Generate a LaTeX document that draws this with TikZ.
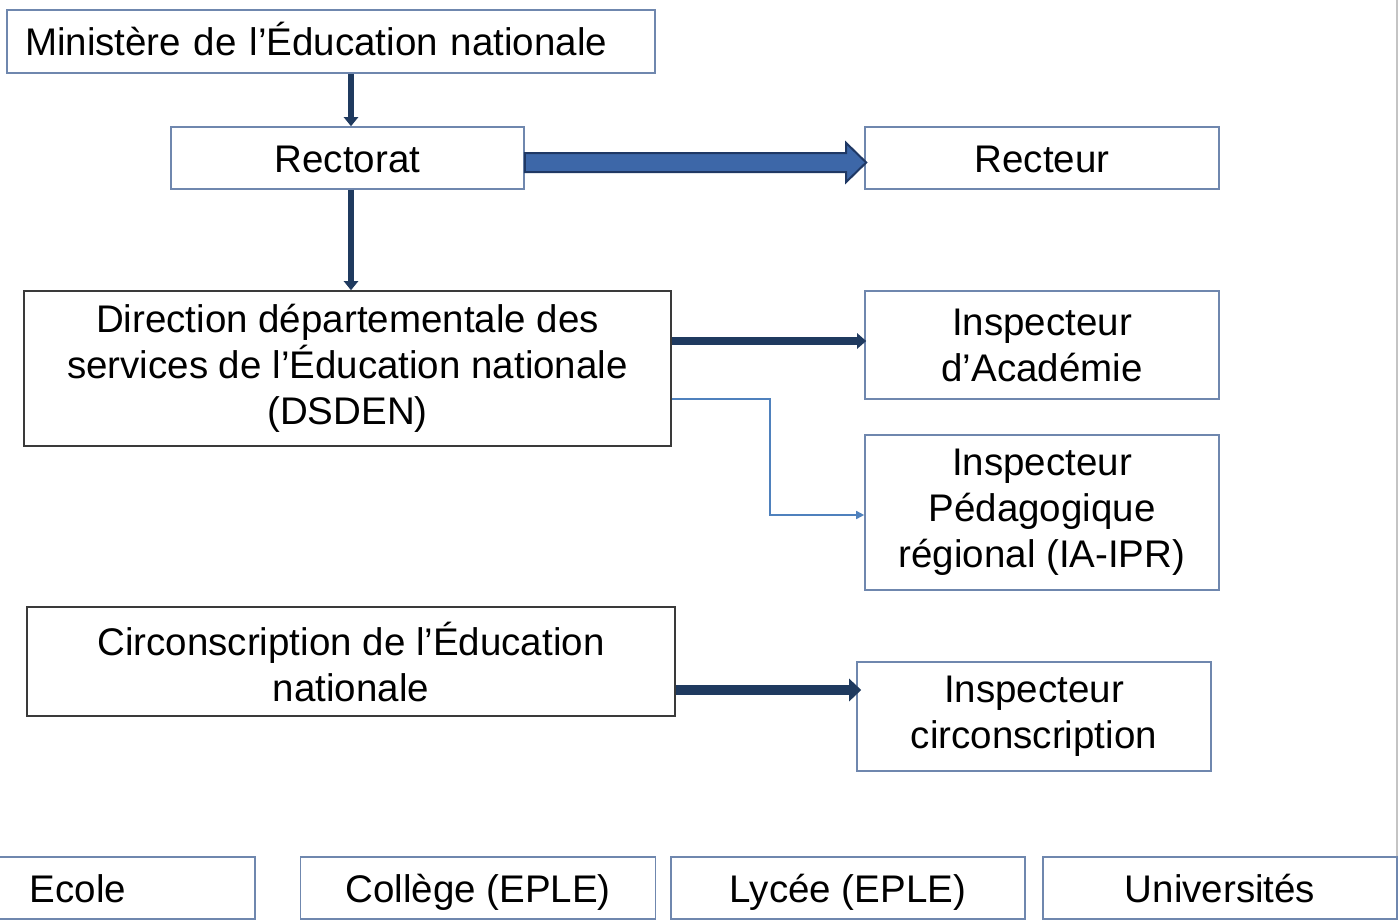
\documentclass[tikz,border=0pt]{standalone}
\usepackage{fontspec}
\setmainfont{Liberation Sans}
\usetikzlibrary{arrows.meta,calc}
\definecolor{boxblue}{HTML}{6F87AE}
\definecolor{boxdark}{HTML}{3A3A3A}
\definecolor{navy}{HTML}{1F3A5F}
\definecolor{blockfill}{HTML}{3D67A8}
\definecolor{blockedge}{HTML}{1F3864}
\definecolor{thinblue}{HTML}{4F81BD}
\definecolor{sidegray}{HTML}{C4C4C4}
\tikzset{
  box/.style={draw=boxblue, line width=1.6pt, rectangle, inner sep=0pt, align=center,
    font=\fontsize{38.5}{46}\selectfont, text=black},
  darkbox/.style={box, draw=boxdark},
  onerow/.style={text height=32pt, text depth=4pt},
  darrow/.style={draw=navy, line width=6pt, -{Triangle[length=9pt,width=14pt]}},
  harrow/.style={draw=navy, line width=8pt, -{Triangle[length=9pt,width=15pt]}},
  carrow/.style={draw=navy, line width=10pt, -{Triangle[length=12pt,width=22pt]}},
  blockarrow/.style={fill=blockfill, draw=blockedge, line width=2pt, line join=miter},
  thinarrow/.style={draw=thinblue, line width=1.5pt, -{Triangle[length=8pt,width=8pt]}}
}
\begin{document}
\begin{tikzpicture}[x=1pt,y=-1pt]
\useasboundingbox (0,0) rectangle (1400,919);
\fill[white] (0,0) rectangle (1400,919);
\draw[sidegray, line width=2pt] (1397,0) -- (1397,857);

\node[box, onerow, minimum width=648pt, minimum height=63pt, text width=612pt, inner xsep=18pt, align=left] (min) at (331,41.5) {Ministère de l’Éducation nationale};
\node[box, onerow, minimum width=353pt, minimum height=62pt] (rect) at (347.5,158) {Rectorat};
\node[box, onerow, minimum width=354pt, minimum height=62pt] (rectr) at (1042,158) {Recteur};
\node[darkbox, minimum width=647pt, minimum height=155pt] (dsden) at (347.5,368.5) {Direction départementale des\\services de l’Éducation nationale\\(DSDEN)};
\node[box, minimum width=354pt, minimum height=108pt] (acad) at (1042,345) {Inspecteur\\d’Académie};
\node[box, minimum width=354pt, minimum height=155pt] (ipr) at (1042,512.5) {Inspecteur\\Pédagogique\\régional (IA-IPR)};
\node[darkbox, minimum width=648pt, minimum height=109pt] (circ) at (351,661.5) {Circonscription de l’Éducation\\nationale};
\node[box, minimum width=354pt, minimum height=109pt] (icirc) at (1034,716.5) {Inspecteur\\circonscription};

\node[box, onerow, minimum width=354pt, minimum height=62pt] (ecole) at (78,888) {Ecole};
\node[box, onerow, minimum width=355pt, minimum height=62pt] (college) at (478,888) {Collège (EPLE)};
\node[box, onerow, minimum width=354pt, minimum height=62pt] (lycee) at (848,888) {Lycée (EPLE)};
\node[box, onerow, minimum width=354pt, minimum height=62pt] (univ) at (1220,888) {Universités};

\draw[darrow] ($(min.south)+(20,0)$) -- ($(rect.north)+(3.5,0)$);
\draw[darrow] ($(rect.south)+(3.5,0)$) -- ($(dsden.north)+(3.5,0)$);

\draw[blockarrow] ($(rect.east)+(0,-5)$) -- ($(rectr.west)+(-18,-5)$) -- ($(rectr.west)+(-18,-15)$)
  -- ($(rectr.west)+(2,4.5)$) -- ($(rectr.west)+(-18,24)$) -- ($(rectr.west)+(-18,14)$)
  -- ($(rect.east)+(0,14)$) -- cycle;

\draw[harrow] ($(dsden.east)+(0,-27.5)$) -- ($(acad.west)+(2,-4)$);
\draw[thinarrow] ($(dsden.east)+(0,30.5)$) -- ++(98,0) |- ($(ipr.west)+(0,2.5)$);
\draw[carrow] ($(circ.east)+(0,28.5)$) -- ($(icirc.west)+(5,-26.5)$);
\end{tikzpicture}
\end{document}
